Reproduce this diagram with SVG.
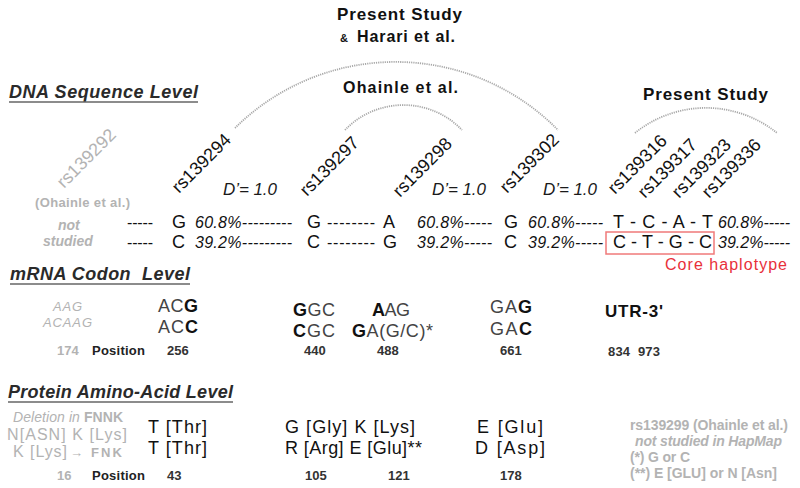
<svg xmlns="http://www.w3.org/2000/svg" width="800" height="488" viewBox="0 0 800 488">
<style>
text{font-family:"Liberation Sans",Arial,sans-serif;fill:#111}
.b{font-weight:bold}
.i{font-style:italic}
.g{fill:#b3b3b3}
.hd{font-size:18px;font-weight:bold;font-style:italic;fill:#2a2a2a}
.ul{stroke:#666;stroke-width:1.6}
.rs{font-size:18px}
.dp{font-size:17px;font-style:italic;fill:#1a1a1a}
.row{font-size:16px}
.nt{font-size:18px}
.cod{font-size:18px}
.cl{fill:#444}
.pos{font-size:13px;font-weight:bold;fill:#333}
.aa{font-size:18px}
.leg{font-size:14px;font-weight:bold;fill:#b3b3b3}
.arc{fill:none;stroke:#a8a8a8;stroke-width:1.8;stroke-dasharray:1.2 1}
</style>
<rect width="800" height="488" fill="#fff"/>

<g id="connectors">
<path class="arc" d="M235,128 A228,228 0 0 1 558,130"/>
<path class="arc" d="M345,130 A81,81 0 0 1 462,130"/>
<path class="arc" d="M635,133 A113,113 0 0 1 777,133"/>
</g>

<g id="study-labels">
<text x="337" y="20" class="b" font-size="17" textLength="125">Present Study</text>
<text x="340" y="42" class="b" font-size="11">&amp;</text>
<text x="357" y="42" class="b" font-size="16" textLength="98">Harari et al.</text>
<text x="343" y="93" class="b" font-size="16" textLength="115">Ohainle et al.</text>
<text x="643" y="100" class="b" font-size="17" textLength="125">Present Study</text>
</g>

<g id="headings">
<text x="9" y="98" class="hd" textLength="189">DNA Sequence Level</text>
<line class="ul" x1="9" y1="102" x2="198" y2="102"/>
<text x="10" y="280" class="hd" textLength="180" xml:space="preserve">mRNA Codon  Level</text>
<line class="ul" x1="10" y1="284" x2="190" y2="284"/>
<text x="8" y="398" class="hd" textLength="225">Protein Amino-Acid Level</text>
<line class="ul" x1="8" y1="402" x2="233" y2="402"/>
</g>

<g id="snp-ids">
<text class="rs g" font-size="19" transform="translate(64,189) rotate(-45)">rs139292</text>
<text class="b g" font-size="13" x="35" y="207" textLength="95">(Ohainle et al.)</text>
<text class="rs" transform="translate(179,194) rotate(-45)">rs139294</text>
<text class="rs" transform="translate(307,197) rotate(-45)">rs139297</text>
<text class="rs" transform="translate(400,198) rotate(-45)">rs139298</text>
<text class="rs" transform="translate(507,194) rotate(-45)">rs139302</text>
<text class="rs" transform="translate(615,195) rotate(-45)">rs139316</text>
<text class="rs" transform="translate(645,199) rotate(-45)">rs139317</text>
<text class="rs" transform="translate(679,199) rotate(-45)">rs139323</text>
<text class="rs" transform="translate(709,199) rotate(-45)">rs139336</text>
</g>

<g id="ld-values">
<text class="dp" x="223" y="195" textLength="54">D’= 1.0</text>
<text class="dp" x="432" y="195" textLength="54">D’= 1.0</text>
<text class="dp" x="543" y="195" textLength="54">D’= 1.0</text>
</g>

<g id="dna-rows">
<text class="b i g" font-size="14" x="58" y="230">not</text>
<text class="b i g" font-size="14" x="43" y="246">studied</text>
<text class="row" x="127" y="228" textLength="26">-----</text>
<text class="row" x="127" y="248" textLength="26">-----</text>
<text class="nt" x="172" y="228">G</text>
<text class="nt" x="172" y="248">C</text>
<text class="row i" x="195" y="228" textLength="97">60.8%---------</text>
<text class="row i" x="195" y="248" textLength="97">39.2%---------</text>
<text class="nt" x="307" y="228">G</text>
<text class="nt" x="307" y="248">C</text>
<text class="row" x="327" y="228" textLength="48">--------</text>
<text class="row" x="327" y="248" textLength="48">--------</text>
<text class="nt" x="383" y="228">A</text>
<text class="nt" x="383" y="248">G</text>
<text class="row i" x="417" y="228" textLength="75">60.8%-----</text>
<text class="row i" x="417" y="248" textLength="75">39.2%-----</text>
<text class="nt" x="504" y="228">G</text>
<text class="nt" x="504" y="248">C</text>
<text class="row i" x="528" y="228" textLength="75">60.8%-----</text>
<text class="row i" x="528" y="248" textLength="75">39.2%-----</text>
<text class="nt" x="613" y="228" textLength="100" xml:space="preserve">T - C - A - T</text>
<text class="nt" x="613" y="248" textLength="99" xml:space="preserve">C - T - G - C</text>
<text class="row i" x="718" y="228" textLength="72">60.8%-----</text>
<text class="row i" x="718" y="248" textLength="72">39.2%-----</text>
</g>

<g id="core-haplotype">
<rect x="606" y="232" width="108" height="22" fill="none" stroke="#f07a7a" stroke-width="1.5"/>
<text x="665" y="270" font-size="16" style="fill:#e8303a" textLength="122">Core haplotype</text>
</g>

<g id="codons">
<text class="i g" font-size="13" x="53" y="311" textLength="29">AAG</text>
<text class="i g" font-size="13" x="43" y="327" textLength="49">ACAAG</text>
<text class="cod" x="158" y="312" textLength="40"><tspan class="cl">AC</tspan><tspan class="b">G</tspan></text>
<text class="cod" x="158" y="333" textLength="40"><tspan class="cl">AC</tspan><tspan class="b">C</tspan></text>
<text class="cod" x="293" y="316" textLength="42"><tspan class="b">G</tspan><tspan class="cl">GC</tspan></text>
<text class="cod" x="293" y="337" textLength="42"><tspan class="b">C</tspan><tspan class="cl">GC</tspan></text>
<text class="cod" x="372" y="316" textLength="38"><tspan class="b">A</tspan><tspan class="cl">AG</tspan></text>
<text class="cod" x="352" y="337" textLength="81"><tspan class="b">G</tspan><tspan class="cl">A(G/C)*</tspan></text>
<text class="cod" x="490" y="313" textLength="42"><tspan class="cl">GA</tspan><tspan class="b">G</tspan></text>
<text class="cod" x="490" y="335" textLength="42"><tspan class="cl">GA</tspan><tspan class="b">C</tspan></text>
<text class="b" font-size="17" x="605" y="317" textLength="58">UTR-3'</text>
</g>

<g id="codon-positions">
<text class="pos" x="57" y="355" style="fill:#b3b3b3">174</text>
<text class="pos" x="92" y="355" textLength="53" style="fill:#222">Position</text>
<text class="pos" x="167" y="355">256</text>
<text class="pos" x="304" y="355">440</text>
<text class="pos" x="377" y="355">488</text>
<text class="pos" x="500" y="355">661</text>
<text class="pos" x="608" y="356" textLength="52" xml:space="preserve">834  973</text>
</g>

<g id="amino-acids">
<text class="g" font-size="14" x="13" y="422" textLength="110"><tspan class="i">Deletion in </tspan><tspan class="b">FNNK</tspan></text>
<text class="g" font-size="16" x="7" y="440" textLength="120">N[ASN] K [Lys]</text>
<text class="g" font-size="16" x="13" y="457" textLength="54">K [Lys]</text>
<text class="g b" font-size="13" x="70" y="457" textLength="52">→ FNK</text>
<text class="aa" x="148" y="433" textLength="59">T [Thr]</text>
<text class="aa" x="148" y="454" textLength="59">T [Thr]</text>
<text class="aa" x="285" y="433" textLength="130">G [Gly] K [Lys]</text>
<text class="aa" x="285" y="454" textLength="137">R [Arg] E [Glu]**</text>
<text class="aa" x="477" y="433" textLength="66">E [Glu]</text>
<text class="aa" x="475" y="454" textLength="70">D [Asp]</text>
</g>

<g id="protein-positions">
<text class="pos" x="57" y="480" style="fill:#b3b3b3">16</text>
<text class="pos" x="92" y="480" textLength="53" style="fill:#222">Position</text>
<text class="pos" x="167" y="480">43</text>
<text class="pos" x="305" y="480">105</text>
<text class="pos" x="388" y="480">121</text>
<text class="pos" x="500" y="480">178</text>
</g>

<g id="legend">
<text class="leg" x="630" y="430" textLength="158">rs139299 (Ohainle et al.)</text>
<text class="leg i" x="635" y="446" textLength="147">not studied in HapMap</text>
<text class="leg" x="630" y="462" textLength="60">(*) G or C</text>
<text class="leg" x="630" y="478" textLength="147">(**) E [GLU] or N [Asn]</text>
</g>
</svg>
